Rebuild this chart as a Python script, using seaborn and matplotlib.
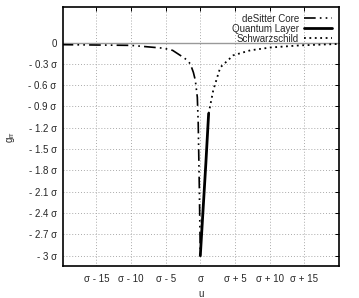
import matplotlib
matplotlib.use("Agg")
import matplotlib.pyplot as plt
import seaborn as sns
import pandas as pd
from matplotlib.lines import Line2D

# Data (x measured relative to sigma, y in units of sigma)
desitter_x = [-20, -15, -10, -5.3, -4, -2.9, -2, -1.44, -1, -0.72, -0.43, -0.3, -0.15, 0.0]
desitter_y = [-0.03, -0.035, -0.04, -0.08, -0.11, -0.18, -0.24, -0.3, -0.42, -0.53, -0.77, -1.14, -2.0, -3.0]
quantum_x = [0.0, 0.4, 0.8, 1.2]
quantum_y = [-3.0, -2.35, -1.7, -1.0]
schw_x = [1.2, 1.87, 2.88, 4.75, 7.2, 10.1, 14.4, 20.0]
schw_y = [-1.0, -0.67, -0.35, -0.18, -0.11, -0.07, -0.04, -0.02]

xticks = [-15, -10, -5, 0, 5, 10, 15]
xticklabels = ["σ - 15", "σ - 10", "σ - 5", "σ", "σ + 5", "σ + 10", "σ + 15"]
yticks = [0, -0.3, -0.6, -0.9, -1.2, -1.5, -1.8, -2.1, -2.4, -2.7, -3.0]
yticklabels = ["0", "- 0.3 σ", "- 0.6 σ", "- 0.9 σ", "- 1.2 σ", "- 1.5 σ", "- 1.8 σ",
               "- 2.1 σ", "- 2.4 σ", "- 2.7 σ", "- 3 σ"]

sns.set_style("white")
plt.rcParams['font.family'] = ['Liberation Sans', 'DejaVu Sans']
plt.rcParams['mathtext.fontset'] = 'custom'
plt.rcParams['mathtext.rm'] = 'Liberation Sans'

fig = plt.figure(figsize=(3.59, 2.98), dpi=100)
ax = fig.add_axes([63/359, 32/298, 276/359, 259/298])

ax.axhline(0, color="#999999", lw=1.0, zorder=1)

dash_dd = (0, (7, 2.5, 1, 2.5, 1, 2.5))
sns.lineplot(x=desitter_x, y=desitter_y, ax=ax, sort=False, color="black",
             lw=1.2, linestyle=dash_dd, zorder=3)
sns.lineplot(x=quantum_x, y=quantum_y, ax=ax, sort=False, color="black",
             lw=2.0, zorder=3)
sns.lineplot(x=schw_x, y=schw_y, ax=ax, sort=False, color="black",
             lw=1.3, linestyle=(0, (1, 2)), zorder=3)

ax.set_xlim(-19.8, 20)
ax.set_ylim(-3.145, 0.5)
ax.set_xticks(xticks)
ax.set_xticklabels(xticklabels)
ax.set_yticks(yticks)
ax.set_yticklabels(yticklabels)
ax.grid(True, color="#aaaaaa", linestyle=(0, (1, 2)), lw=0.7)
ax.tick_params(direction="in", length=3, width=0.7, labelsize=7, color="black",
               top=True, right=True)
ax.tick_params(axis="x", pad=6)
ax.tick_params(axis="y", pad=4.5)
for s in ax.spines.values():
    s.set_linewidth(1.2)
    s.set_color("black")

ax.set_xlabel("u", fontsize=7, labelpad=3.5)
ax.set_ylabel(r"g$_{\mathrm{rr}}$", fontsize=7, labelpad=8)

handles = [
    Line2D([], [], color="black", lw=1.2, linestyle=dash_dd),
    Line2D([], [], color="black", lw=2.0),
    Line2D([], [], color="black", lw=1.3, linestyle=(0, (1, 2))),
]
labels = ["deSitter Core", "Quantum Layer", "Schwarzschild"]
ax.legend(handles, labels, loc="upper right", frameon=False, markerfirst=False,
          fontsize=7, handlelength=2.9, handletextpad=0.5, labelspacing=0.0,
          borderaxespad=0.4, borderpad=0.3)

fig.savefig("out.png", dpi=100)
